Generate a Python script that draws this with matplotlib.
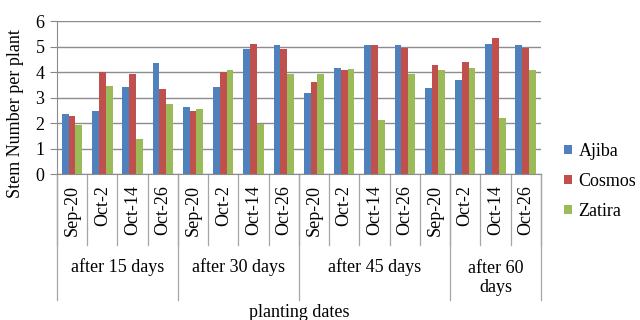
import matplotlib
matplotlib.use("Agg")
import matplotlib.pyplot as plt
import matplotlib.transforms as mtransforms
import numpy as np

# Planting dates (x categories) and sampling stages
dates = ["Sep-20", "Oct-2", "Oct-14", "Oct-26",
         "Sep-20", "Oct-2", "Oct-14", "Oct-26",
         "Sep-20", "Oct-2", "Oct-14", "Oct-26",
         "Sep-20", "Oct-2", "Oct-14", "Oct-26"]
stages = ["after 15 days", "after 30 days", "after 45 days", "after 60\ndays"]
stage_spans = [4, 4, 5, 3]

# Stem number per plant for each cultivar
ajiba = [2.35, 2.46, 3.40, 4.37, 2.63, 3.40, 4.89, 5.06,
         3.18, 4.18, 5.06, 5.06, 3.39, 3.69, 5.12, 5.06]
cosmos = [2.29, 4.00, 3.92, 3.32, 2.46, 4.00, 5.11, 4.89,
          3.61, 4.09, 5.06, 4.95, 4.26, 4.38, 5.33, 4.95]
zatira = [1.91, 3.46, 1.36, 2.73, 2.56, 4.07, 1.96, 3.92,
          3.92, 4.13, 2.14, 3.92, 4.10, 4.18, 2.20, 4.09]

series = [("Ajiba", ajiba, "#4F81BD"),
          ("Cosmos", cosmos, "#C0504D"),
          ("Zatira", zatira, "#9BBB59")]

plt.rcParams["font.family"] = ["Liberation Serif", "DejaVu Serif"]
FS = 13

fig = plt.figure(figsize=(6.4, 3.2), dpi=100)
ax = fig.add_axes([0.089, 0.456, 0.756, 0.478])

n = len(dates)
x = np.arange(n) + 0.5
bw = 0.225
for k, (name, vals, col) in enumerate(series):
    ax.bar(x + (k - 1) * bw, vals, width=bw, color=col, label=name,
           zorder=3, linewidth=0)

ax.set_xlim(0, n)
ax.set_ylim(0, 6)
ax.set_yticks(range(0, 7))
ax.tick_params(axis="y", labelsize=FS, length=5, color="#888888", pad=4)
ax.set_xticks([])
ax.grid(axis="y", color="#8c8c8c", linewidth=1.0, zorder=0)
for s in ["top", "right"]:
    ax.spines[s].set_visible(False)
for s in ["left", "bottom"]:
    ax.spines[s].set_color("#8c8c8c")

trans = mtransforms.blended_transform_factory(ax.transData, ax.transAxes)
sep_col = "#a6a6a6"

# Date labels and separators between dates
for i, d in enumerate(dates):
    ax.text(i + 0.5, -0.07, d, transform=trans, rotation=90,
            ha="center", va="top", fontsize=FS)
for i in range(n + 1):
    ax.plot([i, i], [0, -0.464], transform=trans, color=sep_col,
            linewidth=0.9, clip_on=False)

# Stage labels and separators between stages
edges = np.concatenate([[0], np.cumsum(stage_spans)])
for e in edges:
    ax.plot([e, e], [0, -0.824], transform=trans, color=sep_col,
            linewidth=0.9, clip_on=False)
for lab, a, b in zip(stages, edges[:-1], edges[1:]):
    ypos = -0.68 if "\n" in lab else -0.61
    ax.text((a + b) / 2, ypos, lab, transform=trans, ha="center",
            va="center", fontsize=FS, linespacing=1.15)

fig.text(0.5 * (0.089 + 0.845), 0.022, "planting dates", ha="center",
         va="center", fontsize=FS)
fig.text(0.024, 1 - 114 / 320, "Stem Number per plant", rotation=90,
         ha="center", va="center", fontsize=FS)

fig.legend(loc="upper left", bbox_to_anchor=(564 / 640, 1 - 143 / 320),
           bbox_transform=fig.transFigure, frameon=False,
           fontsize=FS, handlelength=0.45, handleheight=0.45,
           handletextpad=0.35, labelspacing=0.72, borderaxespad=0,
           borderpad=0)

fig.savefig("out.png", dpi=100)
